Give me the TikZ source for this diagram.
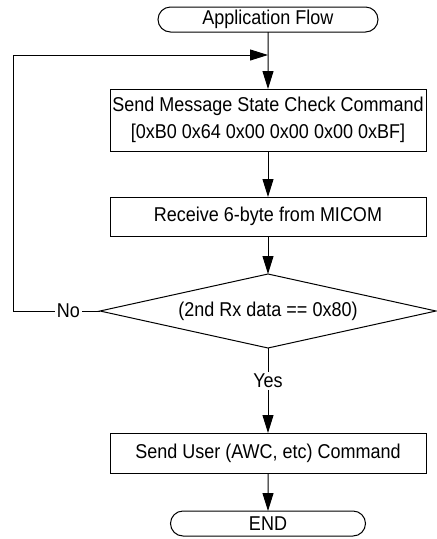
\documentclass[tikz,border=0pt]{standalone}
\usepackage{fontspec}
\setmainfont{Liberation Sans}[FakeStretch=0.9]
\usepackage{tikz}
\usetikzlibrary{arrows.meta, positioning, shapes.geometric, shapes.misc, calc}
\tikzset{%
  base/.style={draw, line width=1pt, outer sep=0pt, align=center,
    font=\fontsize{20}{27}\selectfont},
  terminal/.style={base, rounded rectangle, minimum height=25pt, inner sep=1pt},
  process/.style={base, rectangle, minimum width=316pt, inner sep=2pt},
  decision/.style={base, diamond, aspect=4.5, minimum width=336pt, minimum height=74pt, inner sep=1pt},
  tag/.style={font=\fontsize{20}{24}\selectfont, inner sep=2pt, outer sep=0pt},
  edge/.style={line width=1pt},
  flow/.style={edge, -{Triangle[length=18pt,width=11pt]}}
}

\begin{document}
\begin{tikzpicture}[x=1pt, y=-1pt]
  \useasboundingbox (0,0) rectangle (437,539);

  \node[terminal, minimum width=222pt] (start) at (268,19.5) {Application Flow};
  \node[process, minimum height=62pt, below=57pt of start] (sendcheck)
    {Send Message State Check Command\\{}[0xB0 0x64 0x00 0x00 0x00 0xBF]};
  \node[process, minimum height=39pt, below=46pt of sendcheck] (receive) {Receive 6-byte from MICOM};
  \node[decision, below=38pt of receive] (check) {(2nd Rx data == 0x80)};
  \node[process, minimum height=40pt, below=85pt of check] (senduser) {Send User (AWC, etc) Command};
  \node[terminal, minimum width=197pt, below=38pt of senduser] (stop) {END};

  \node[tag, below=24pt of check] (yes) {Yes};
  \node[tag, left=18pt of check.west] (no) {No};

  \coordinate (loopturn) at (13,55);
  \coordinate (merge) at (268,55);

  \draw[flow] (start) -- (sendcheck);
  \draw[flow] (sendcheck) -- (receive);
  \draw[flow] (receive) -- (check);
  \draw[edge] (check) -- (yes);
  \draw[flow] (yes) -- (senduser);
  \draw[flow] (senduser) -- (stop);

  \draw[edge] (check) -- (no);
  \draw[flow] (no) -| (loopturn) -- (merge);
\end{tikzpicture}
\end{document}
